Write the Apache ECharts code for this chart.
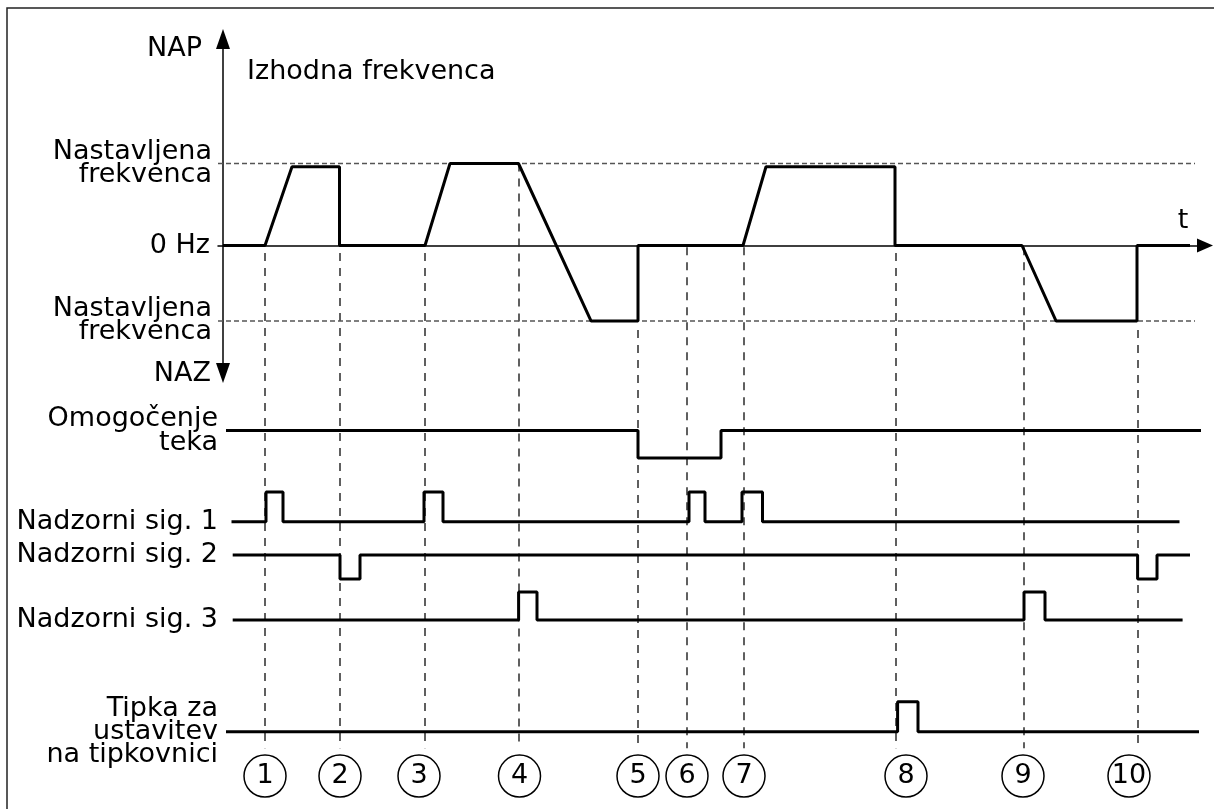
<!DOCTYPE html>
<html><head><meta charset="utf-8">
<script src="https://cdn.jsdelivr.net/npm/echarts@6/dist/echarts.min.js"></script>
<style>html,body{margin:0;padding:0;background:#fff}#c{width:1214px;height:809px}</style>
</head><body><div id="c"></div>
<script>
// ---------------- data (time in arbitrary units) ----------------
const EVENT_T = [4.2, 11.7, 20.2, 29.6, 41.5, 46.4, 52.1, 67.3, 80.1, 91.5];
const EVENT_LINE_TOP = [-0.09, -0.09, -0.09, 1.0, -1.03, -0.02, -0.02, -0.09, -0.02, -1.03];
const EVENT_LINE_BOTTOM = -6.13;
const CIRCLE_T = [4.2, 11.7, 19.6, 29.65, 41.5, 46.4, 52.1, 68.3, 80.0, 90.6];
const CIRCLE_LABELS = ['1','2','3','4','5','6','7','8','9','10'];
const CIRCLE_LEVEL = -6.47;

const FREQ_T = [0, 4.2, 6.9, 11.65, 11.65, 20.2, 22.7, 29.55, 36.8, 41.5, 41.5, 52.0, 54.3, 67.2, 67.2, 79.9, 83.3, 91.4, 91.4, 96.7];
const FREQ_V = [0, 0, 0.96, 0.96, 0, 0, 1.0, 1.0, -0.92, -0.92, 0, 0, 0.96, 0.96, 0, 0, -0.92, -0.92, 0, 0];
const SETPOINT_FWD = 1.0;
const SETPOINT_REV = -0.92;
const SETPOINT_T = [-0.5, 97.2];

const RUN_T  = [0.3, 41.5, 41.5, 49.8, 49.8, 97.8];
const RUN_V  = [1, 1, 0, 0, 1, 1];
const SIG1_T = [0.85, 4.3, 4.3, 6.0, 6.0, 20.1, 20.1, 22.0, 22.0, 46.6, 46.6, 48.2, 48.2, 51.9, 51.9, 53.95, 53.95, 95.65];
const SIG1_V = [0, 0, 1, 1, 0, 0, 1, 1, 0, 0, 1, 1, 0, 0, 1, 1, 0, 0];
const SIG2_T = [0.97, 11.7, 11.7, 13.7, 13.7, 91.46, 91.46, 93.4, 93.4, 96.7];
const SIG2_V = [1, 1, 0, 0, 1, 1, 0, 0, 1, 1];
const SIG3_T = [0.97, 29.56, 29.56, 31.4, 31.4, 80.1, 80.1, 82.2, 82.2, 95.96];
const SIG3_V = [0, 0, 1, 1, 0, 0, 1, 1, 0, 0];
const KEY_T  = [0.3, 67.46, 67.46, 69.5, 69.5, 97.6];
const KEY_V  = [0, 0, 1, 1, 0, 0];

const FREQ_LABELS = { fwd: 'Nastavljena\nfrekvenca', zero: '0 Hz', rev: 'Nastavljena\nfrekvenca' };
const SIGNAL_NAMES = ['Omogočenje\nteka', 'Nadzorni sig. 1', 'Nadzorni sig. 2', 'Nadzorni sig. 3', 'Tipka za\nustavitev\nna tipkovnici'];
const SIGNAL_LABEL_LEVEL = [1, 0, 1, 0, 0];

// ---------------- layout ----------------
const FONT = 'DejaVu Sans';
const FS = 27;
const X_MIN = -0.5, X_MAX = 98.2;
const G_LEFT = 218, G_WIDTH = 987;
const ZERO_PX = 245.5, PX_PER_UNIT = 82;
const F_TOP = 39, F_BOTTOM = 373, O_BOTTOM = 809;
const pairs = (t, v) => t.map((x, i) => [x, v[i]]);

const digitalGrids = [
  { top: 430.5, height: 27.5 },
  { top: 492, height: 29.7 },
  { top: 555, height: 24 },
  { top: 592, height: 28 },
  { top: 701.7, height: 30 }
];
const digitalData = [pairs(RUN_T, RUN_V), pairs(SIG1_T, SIG1_V), pairs(SIG2_T, SIG2_V), pairs(SIG3_T, SIG3_V), pairs(KEY_T, KEY_V)];
const labelPad = [[0,0,0,0],[0,0,0,0],[0,0,0,0],[0,0,0,0],[0,0,12,0]];
const labelLH = [24, 23, 23, 23, 23];

const grids = [
  { left: G_LEFT, width: G_WIDTH, top: F_TOP, height: F_BOTTOM - F_TOP },
  { left: G_LEFT, width: G_WIDTH, top: F_TOP, height: O_BOTTOM - F_TOP }
].concat(digitalGrids.map(g => ({ left: G_LEFT, width: G_WIDTH, top: g.top, height: g.height })));

const hiddenX = i => ({ type: 'value', gridIndex: i, min: X_MIN, max: X_MAX, show: false });
const xAxes = [
  { type: 'value', gridIndex: 0, min: X_MIN, max: X_MAX,
    axisLine: { show: true, onZero: true, symbol: ['none', 'triangle'], symbolSize: [14, 16], lineStyle: { color: '#000', width: 1.5 } },
    axisTick: { show: false }, axisLabel: { show: false }, splitLine: { show: false } },
  hiddenX(1)
].concat(digitalGrids.map((g, i) => hiddenX(i + 2)));

const yAxes = [
  { type: 'value', gridIndex: 0,
    min: -(F_BOTTOM - ZERO_PX) / PX_PER_UNIT, max: (ZERO_PX - F_TOP) / PX_PER_UNIT,
    axisLine: { show: true, onZero: true, symbol: ['triangle', 'triangle'], symbolSize: [14, 20], lineStyle: { color: '#000', width: 1.5 } },
    axisTick: { show: false }, splitLine: { show: false },
    axisLabel: {
      customValues: [SETPOINT_REV, 0, SETPOINT_FWD],
      margin: 6, color: '#000', fontFamily: FONT, fontSize: FS, lineHeight: 23,
      formatter: v => v === 0 ? '{z|' + FREQ_LABELS.zero + '}' : (v > 0 ? FREQ_LABELS.fwd : FREQ_LABELS.rev),
      rich: { z: { fontFamily: FONT, fontSize: FS, color: '#000', padding: [0, 2, 0, 0] } }
    } },
  { type: 'value', gridIndex: 1, min: -(O_BOTTOM - ZERO_PX) / PX_PER_UNIT, max: (ZERO_PX - F_TOP) / PX_PER_UNIT, show: false }
].concat(digitalGrids.map((g, i) => ({
  type: 'value', gridIndex: i + 2, min: 0, max: 1, interval: 1,
  axisLine: { show: false, onZero: false }, axisTick: { show: false }, splitLine: { show: false },
  axisLabel: {
    margin: 0, color: '#000', fontFamily: FONT, fontSize: FS, lineHeight: labelLH[i], padding: labelPad[i],
    formatter: v => v === SIGNAL_LABEL_LEVEL[i] ? SIGNAL_NAMES[i] : ''
  }
})));

const trace = { type: 'line', showSymbol: false, clip: false, lineStyle: { color: '#000', width: 3 }, z: 5, silent: true };
const series = [
  { type: 'lines', coordinateSystem: 'cartesian2d', xAxisIndex: 1, yAxisIndex: 1, z: 1, silent: true,
    lineStyle: { color: '#2a2a2a', width: 1.5, type: [8, 7], opacity: 1 },
    data: EVENT_T.map((t, i) => ({ coords: [[t, EVENT_LINE_TOP[i]], [t, EVENT_LINE_BOTTOM]] })) },
  { type: 'line', xAxisIndex: 0, yAxisIndex: 0, showSymbol: false, clip: false, z: 2, silent: true,
    lineStyle: { color: '#555', width: 1.5, type: [5, 3] }, data: SETPOINT_T.map(t => [t, SETPOINT_FWD]) },
  { type: 'line', xAxisIndex: 0, yAxisIndex: 0, showSymbol: false, clip: false, z: 2, silent: true,
    lineStyle: { color: '#555', width: 1.5, type: [5, 3] }, data: SETPOINT_T.map(t => [t, SETPOINT_REV]) },
  Object.assign({}, trace, { xAxisIndex: 0, yAxisIndex: 0, data: pairs(FREQ_T, FREQ_V) })
].concat(digitalData.map((d, i) => Object.assign({}, trace, { xAxisIndex: i + 2, yAxisIndex: i + 2, data: d })))
 .concat([{
   type: 'scatter', xAxisIndex: 1, yAxisIndex: 1, z: 6, silent: true, clip: false,
   symbol: 'circle', symbolSize: 42,
   itemStyle: { color: '#fff', borderColor: '#000', borderWidth: 1.5, opacity: 1 },
   label: { show: true, position: 'inside', color: '#000', fontFamily: FONT, fontSize: FS,
     textBorderWidth: 0, formatter: p => CIRCLE_LABELS[p.dataIndex] },
   data: CIRCLE_T.map(t => [t, CIRCLE_LEVEL])
 }]);

const txt = (text, x, y, align) => ({ type: 'text', x: x, y: y, silent: true, z: 10,
  style: { text: text, fill: '#000', font: FS + 'px "' + FONT + '"', align: align, verticalAlign: 'middle' } });

const chart = echarts.init(document.getElementById('c'), null, { renderer: 'canvas' });
chart.setOption({
  animation: false,
  backgroundColor: '#fff',
  grid: grids,
  xAxis: xAxes,
  yAxis: yAxes,
  series: series,
  graphic: [
    { type: 'rect', silent: true, z: 0, shape: { x: 7, y: 8, width: 1260, height: 860 },
      style: { fill: 'none', stroke: '#222', lineWidth: 1.5 } },
    txt('NAP', 202, 49, 'right'),
    txt('NAZ', 211, 374, 'right'),
    txt('Izhodna frekvenca', 247, 72, 'left'),
    txt('t', 1183, 221, 'center')
  ]
});
</script></body></html>
